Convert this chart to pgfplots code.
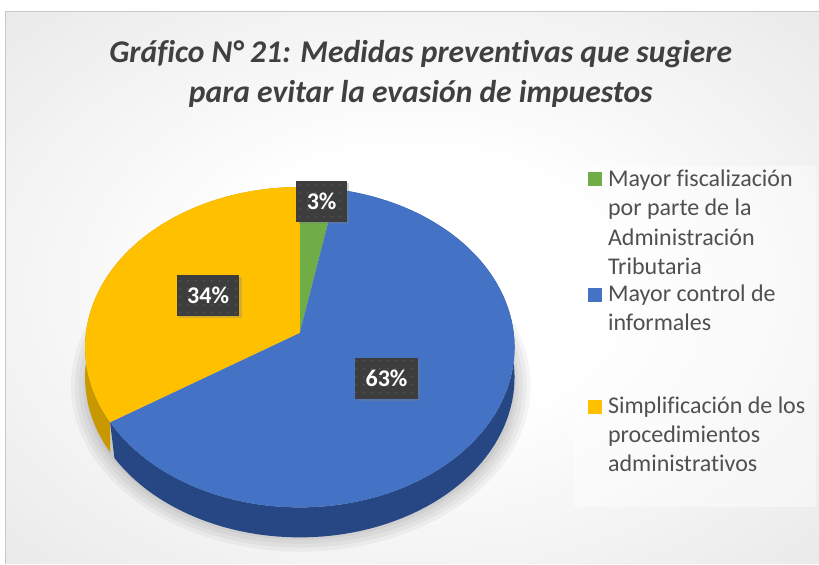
\documentclass[border=0pt]{standalone}
\usepackage{pgfplots}
\pgfplotsset{compat=1.18}
\usepackage{pgfplotstable}
\usepackage{fontspec}
\setmainfont{Carlito}[Ligatures=NoCommon]
\usetikzlibrary{shadows,patterns.meta}
\definecolor{cgreen}{HTML}{70AD47}
\definecolor{cblue}{HTML}{4472C4}
\definecolor{cyellow}{HTML}{FFC000}
\definecolor{dblue}{HTML}{274784}
\definecolor{dyellow}{HTML}{C99700}
\definecolor{ttl}{HTML}{404040}
\definecolor{legtxt}{HTML}{505050}
\definecolor{lblbg}{HTML}{3D3D3D}
\definecolor{lbldot}{HTML}{5A5A5A}
\definecolor{bggray}{HTML}{C9C9C9}
\pgfdeclareradialshading{bgshade}{\pgfpoint{0bp}{0bp}}{color(0bp)=(white);color(12bp)=(white);color(72bp)=(bggray)}
\tikzdeclarepattern{name=ldots, type=uncolored, bottom left={(-.1pt,-.1pt)}, top right={(4pt,4pt)}, tile size={(4pt,4pt)}, code={\fill (2pt,2pt) circle (0.45pt);}}

\pgfplotstableread{
id value
1 3
2 63
3 34
}\piedata

\begin{document}
\begin{tikzpicture}
\pgfplotstablegetelem{0}{value}\of\piedata \edef\va{\pgfplotsretval}
\pgfplotstablegetelem{1}{value}\of\piedata \edef\vb{\pgfplotsretval}
\pgfplotstablegetelem{2}{value}\of\piedata \edef\vc{\pgfplotsretval}
\pgfmathsetmacro\aA{0}
\pgfmathsetmacro\aB{3.6*\va}
\pgfmathsetmacro\aC{\aB+3.6*\vb}
\pgfmathsetmacro\aD{\aC+3.6*\vc}
% label positions (mid angle, radius factor)
\pgfmathsetmacro\mA{(\aA+\aB)/2}
\pgfmathsetmacro\mB{(\aB+\aC)/2}
\pgfmathsetmacro\mC{(\aC+\aD)/2}
\pgfmathsetmacro\lAx{300+0.9*214*sin(\mA)/(1+0.081*cos(\mA))+5}
\pgfmathsetmacro\lAy{333-0.9*159*cos(\mA)/(1+0.081*cos(\mA))}
\pgfmathsetmacro\lBx{300+0.5*214*sin(\mB)/(1+0.045*cos(\mB))-4}
\pgfmathsetmacro\lBy{333-0.5*159*cos(\mB)/(1+0.045*cos(\mB))}
\pgfmathsetmacro\lCx{300+0.5*214*sin(\mC)/(1+0.045*cos(\mC))}
\pgfmathsetmacro\lCy{333-0.5*159*cos(\mC)/(1+0.045*cos(\mC))}
\begin{axis}[
  width=409.5pt, height=282.5pt, scale only axis,
  xmin=0, xmax=819, ymin=0, ymax=565, y dir=reverse,
  hide axis, clip=false,
  declare function={
    px(\t)=300+214*sin(\t)/(1+0.09*cos(\t));
    py(\t)=333-159*cos(\t)/(1+0.09*cos(\t));
    sa(\t,\a,\b)=\a+(\b-\a)*(\t-2*(\t-1)*(\t>1.001));
  },
]
% background
\fill[white] (axis cs:0,0) rectangle (axis cs:819,565);
\shade[shading=bgshade] (axis cs:6,12) rectangle (axis cs:819,564);
\draw[black!22, line width=0.5pt] (axis cs:6,564) -- (axis cs:6,12) -- (axis cs:819,12);
% legend panel
\fill[white, opacity=0.45] (axis cs:574,166) rectangle (axis cs:816,507);
% soft shadow of the pie (bottom and sides only)
\fill[black, opacity=0.04] (axis cs:301,386) ellipse [x radius=115pt, y radius=83pt];
\fill[black, opacity=0.04] (axis cs:301,386) ellipse [x radius=113pt, y radius=81pt];
\fill[black, opacity=0.04] (axis cs:301,386) ellipse [x radius=111pt, y radius=79pt];
\fill[black, opacity=0.04] (axis cs:301,386) ellipse [x radius=109pt, y radius=77pt];
\fill[black, opacity=0.04] (axis cs:301,386) ellipse [x radius=107.5pt, y radius=75.5pt];
% sides
\addplot[fill=dyellow, draw=none, domain=0:2, samples=201, variable=\t]
  ({px(sa(\t,\aC,\aD))},{py(sa(\t,\aC,\aD))+30*(\t>1.001)});
\addplot[fill=dblue, draw=none, domain=0:2, samples=201, variable=\t]
  ({px(sa(\t,\aB,\aC))},{py(sa(\t,\aB,\aC))+30*(\t>1.001)});
% top faces
\addplot[fill=cgreen, draw=none, domain=\aA:\aB, samples=12]
  ({px(x)},{py(x)}) -- (axis cs:300,333) -- cycle;
\addplot[fill=cblue, draw=none, domain=\aB:\aC, samples=120]
  ({px(x)},{py(x)}) -- (axis cs:300,333) -- cycle;
\addplot[fill=cyellow, draw=none, domain=\aC:\aD, samples=80]
  ({px(x)},{py(x)}) -- (axis cs:300,333) -- cycle;
% data labels
\tikzset{lbl/.style={fill=lblbg, text=white, font=\bfseries\fontsize{12}{14}\selectfont,
  minimum height=20.5pt, inner xsep=5.2pt, inner ysep=0pt,
  postaction={pattern={ldots}, pattern color=lbldot},
  drop shadow={shadow xshift=1.2pt, shadow yshift=-1.2pt, opacity=0.3}}}
\node[lbl] at (axis cs:\lAx,\lAy) {\va\%};
\node[lbl] at (axis cs:\lBx,\lBy) {\vb\%};
\node[lbl] at (axis cs:\lCx,\lCy) {\vc\%};
% title
\node[font=\bfseries\itshape\fontsize{15.8}{18}\selectfont, text=ttl, anchor=base] at (axis cs:421,62.5) {Gráfico N° 21: Medidas preventivas que sugiere};
\node[font=\bfseries\itshape\fontsize{15.8}{18}\selectfont, text=ttl, anchor=base] at (axis cs:421,103) {para evitar la evasión de impuestos};
% legend
\fill[cgreen] (axis cs:588,172) rectangle (axis cs:602,186);
\fill[cblue] (axis cs:588,288) rectangle (axis cs:602,302);
\fill[cyellow] (axis cs:588,400) rectangle (axis cs:602,414);
\tikzset{leg/.style={font=\fontsize{12}{14}\selectfont, text=legtxt, anchor=base west, inner sep=0pt}}
\node[leg] at (axis cs:608,186.5) {Mayor fiscalización};
\node[leg] at (axis cs:608,216) {por parte de la};
\node[leg] at (axis cs:608,245.5) {Administración};
\node[leg] at (axis cs:608,275) {Tributaria};
\node[leg] at (axis cs:608,301.5) {Mayor control de};
\node[leg] at (axis cs:608,330.5) {informales};
\node[leg] at (axis cs:608,413.5) {Simplificación de los};
\node[leg] at (axis cs:608,442.5) {procedimientos};
\node[leg] at (axis cs:608,472) {administrativos};
\end{axis}
\end{tikzpicture}
\end{document}
